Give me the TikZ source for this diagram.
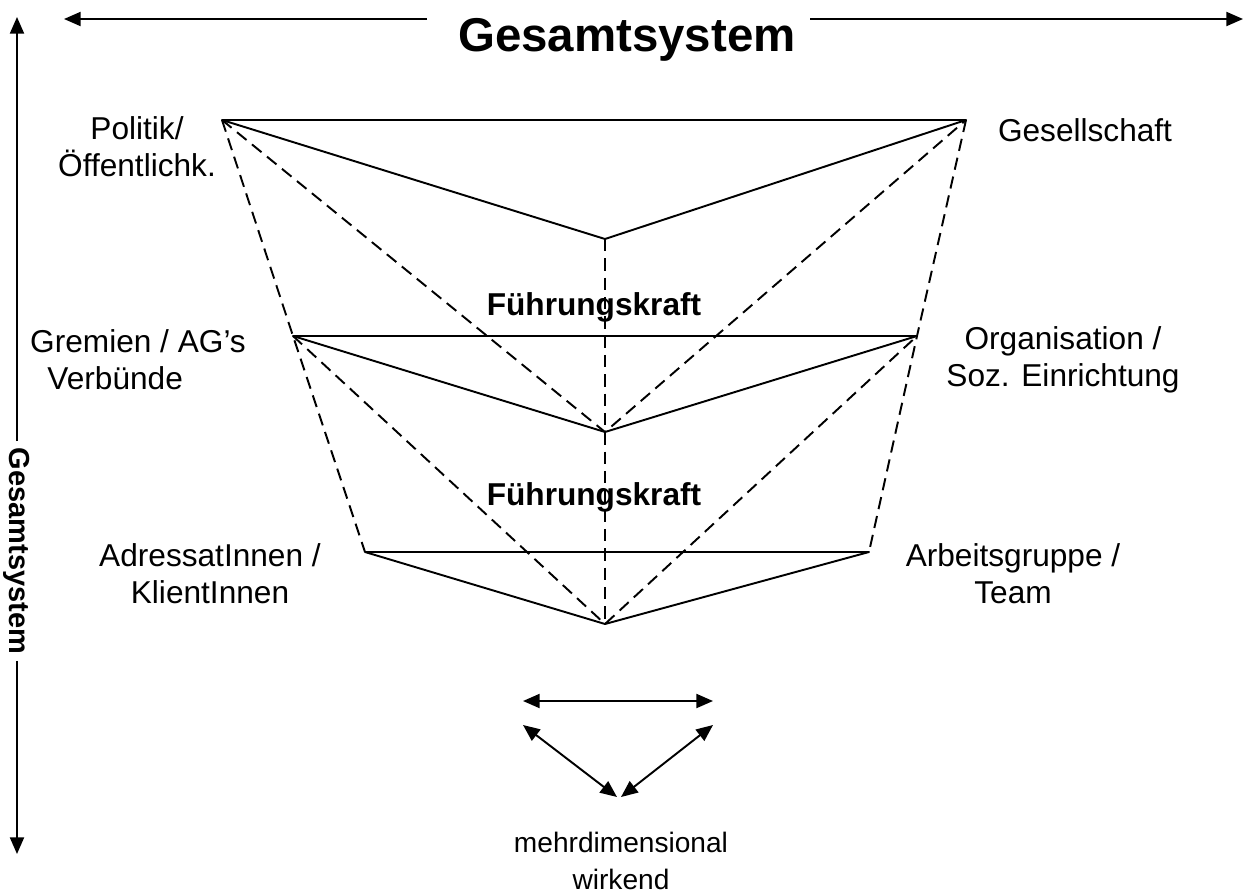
\documentclass[tikz,border=0pt]{standalone}
\usepackage{fontspec}
\setmainfont{Liberation Sans}
\usetikzlibrary{arrows.meta}
\tikzset{every node/.append style={execute at begin node={\hyphenpenalty=10000\exhyphenpenalty=10000\relax}}}
\tikzset{
  ebene/.style={line width=1.1pt, line join=round},
  quer/.style={line width=1.1pt, dash pattern=on 7pt off 4pt},
  bereich/.style={align=center, font=\fontsize{18}{21}\selectfont},
  rolle/.style={font=\bfseries\fontsize{18}{21}\selectfont},
}

\begin{document}
\begin{tikzpicture}[x=0.02cm, y=-0.02cm, >={Triangle[length=9.5pt, width=8pt]}, line width=1.1pt]
  \useasboundingbox (0,0) rectangle (1247,893);
  % Achsen
  \node[font=\bfseries\fontsize{27}{31}\selectfont] (titel) at (627,40) {Gesamtsystem};
  \coordinate (hl) at (427,19); \coordinate (hlend) at (64,19);
  \coordinate (hr) at (810,19); \coordinate (hrend) at (1243,19);
  \draw[->] (hl) -- (hlend);
  \draw[->] (hr) -- (hrend);
  \node[rotate=-90, font=\bfseries\fontsize{16.5}{19}\selectfont] (seite) at (17,551) {Gesamtsystem};
  \coordinate (oben) at (17,17); \coordinate (unten) at (17,854);
  \draw[->] (seite.west) -- (oben);
  \draw[->] (seite.east) -- (unten);
  % Ebenen
  \coordinate (pol) at (222,120); \coordinate (ges) at (966,120); \coordinate (fk1) at (605,239);
  \coordinate (gre) at (293,336); \coordinate (org) at (917,336); \coordinate (fk2) at (605,432);
  \coordinate (adr) at (365,552); \coordinate (tea) at (869,552); \coordinate (fk3) at (605,624);
  \foreach \l/\m/\r in {pol/fk1/ges, gre/fk2/org, adr/fk3/tea}
    \draw[ebene] (\l) -- (\r) -- (\m) -- cycle;
  \draw[quer] (pol) -- (gre) -- (adr);
  \draw[quer] (ges) -- (org) -- (tea);
  \draw[quer] (pol) -- (fk2) -- (ges);
  \draw[quer] (gre) -- (fk3) -- (org);
  \draw[quer] (fk1) -- (fk2) -- (fk3);
  % Beschriftung
  \node[bereich] (politik) at (137,147) {Politik/\\Öffentlichk.};
  \node[bereich] (gesell) at (1085,130) {Gesellschaft};
  \node[bereich] (gremien) at (138,360) {Gremien / AG’s\\Verbünde\hspace*{26pt}};
  \node[bereich] (organisation) at (1063,360) {Organisation /\\Soz. Einrichtung};
  \node[bereich] (adressat) at (210,574) {AdressatInnen /\\KlientInnen};
  \node[bereich] (arbeit) at (1013,574) {Arbeitsgruppe /\\Team};
  \node[rolle] (fuehrung1) at (594,307) {Führungskraft};
  \node[rolle] (fuehrung2) at (594,497) {Führungskraft};
  % Wirkung
  \coordinate (wl) at (523,701); \coordinate (wr) at (713,701);
  \coordinate (dl) at (523,725); \coordinate (dr) at (713,725);
  \coordinate (ml) at (617,797); \coordinate (mr) at (621,797);
  \draw[<->] (wl) -- (wr);
  \draw[<->] (dl) -- (ml);
  \draw[<->] (dr) -- (mr);
  \node[align=center, font=\fontsize{16}{21}\selectfont] (mehr) at (621,861) {mehrdimensional\\wirkend};
\end{tikzpicture}
\end{document}
